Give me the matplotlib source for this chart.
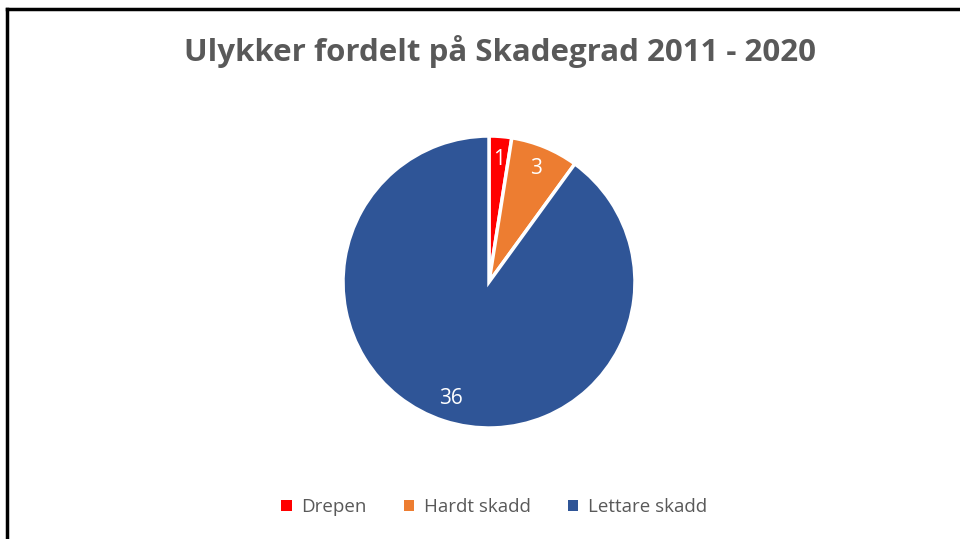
import matplotlib
matplotlib.use("Agg")
import matplotlib.pyplot as plt
from matplotlib.lines import Line2D
from matplotlib.patches import Patch

# data
categories = ["Drepen", "Hardt skadd", "Lettare skadd"]
values = [1, 3, 36]
colors = ["#FF0000", "#ED7D31", "#2F5597"]
title = "Ulykker fordelt på Skadegrad 2011 - 2020"

plt.rcParams["font.family"] = ["Open Sans", "DejaVu Sans"]

W, H = 960, 539
fig = plt.figure(figsize=(W / 100, H / 100), dpi=100)

# pie axes: centre (489, 282) px, radius 146 px
cx, cy, r = 489, 282, 146
ax = fig.add_axes([(cx - r) / W, (H - cy - r) / H, 2 * r / W, 2 * r / H])
wedges, texts, autotexts = ax.pie(
    values, colors=colors, startangle=90, counterclock=False,
    autopct=lambda p: f"{p * sum(values) / 100:.0f}", pctdistance=0.84,
    wedgeprops=dict(edgecolor="white", linewidth=2.5),
    textprops=dict(color="white", fontsize=15),
)
ax.set_xlim(-1, 1)
ax.set_ylim(-1, 1)

fig.text(500 / W, 1 - 52 / H, title, ha="center", va="center",
         fontsize=22.5, fontweight="bold", color="#595959")

handles = [Patch(facecolor=c, edgecolor="none") for c in colors]
fig.legend(handles, categories, loc="center", bbox_to_anchor=(494 / W, 1 - 507 / H),
           ncol=3, frameon=False, fontsize=13.5, labelcolor="#595959",
           handlelength=0.55, handleheight=0.55, handletextpad=0.5, columnspacing=2.0)

# chart border (left + top visible)
fig.add_artist(Line2D([7 / W, 7 / W], [0, 1 - 9 / H], color="black", lw=2.5,
                      transform=fig.transFigure))
fig.add_artist(Line2D([7 / W, 1], [1 - 9 / H, 1 - 9 / H], color="black", lw=2.5,
                      transform=fig.transFigure))

fig.savefig("out.png", dpi=100)
